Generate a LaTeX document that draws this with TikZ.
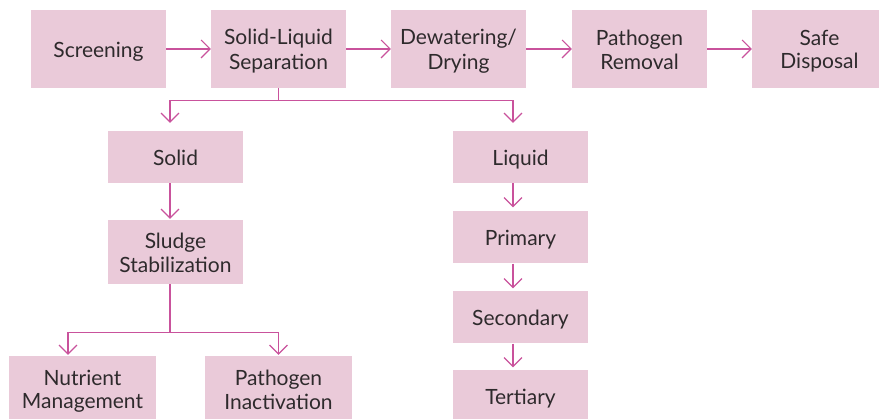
\documentclass[tikz,border=0pt]{standalone}
\usepackage{fontspec}
\setmainfont{Lato}
\usetikzlibrary{arrows.meta}
\definecolor{boxfill}{HTML}{EACAD9}
\definecolor{linecol}{HTML}{C9529C}
\definecolor{txt}{HTML}{2E2A2C}
\newcommand{\vs}{\rule[-3pt]{0pt}{23pt}}
\tikzset{
  box/.style={fill=boxfill, draw=none, text=txt, align=center, inner sep=0pt,
    minimum width=135pt, font=\fontsize{21}{23}\selectfont},
  conn/.style={draw=linecol, line width=1.1pt, -{Straight Barb[length=9pt,width=18pt,line width=1.1pt]}},
  plain/.style={draw=linecol, line width=1.1pt}
}
\begin{document}
\begin{tikzpicture}[x=1pt,y=-1pt]
\useasboundingbox (0,0) rectangle (879,419);
\clip (0,0) rectangle (879,419);
% top row
\node[box, minimum height=78pt] (scr) at (98.5,49) {\vs Screening};
\node[box, minimum height=78pt] (sls) at (278.5,49) {\vs Solid-Liquid\\\vs Separation};
\node[box, minimum height=78pt] (dew) at (458.5,49) {\vs Dewatering/\\\vs Drying};
\node[box, minimum height=78pt] (pr) at (639.5,49) {\vs Pathogen\\\vs Removal};
\node[box, minimum height=78pt] (sd) at (819.5,49) {\vs Safe\\\vs Disposal};
% solid branch
\node[box, minimum height=52pt] (solid) at (175.5,157) {\vs Solid};
\node[box, minimum height=64pt] (sludge) at (175.5,252) {\vs Sludge\\\vs Stabilization};
\node[box, minimum height=66pt, minimum width=147pt] (nut) at (82.5,389) {\vs Nutrient\\\vs Management};
\node[box, minimum height=66pt, minimum width=147pt] (pin) at (278.5,389) {\vs Pathogen\\\vs Inactivation};
% liquid branch
\node[box, minimum height=52pt] (liq) at (520.5,157) {\vs Liquid};
\node[box, minimum height=52pt] (pri) at (520.5,237.5) {\vs Primary};
\node[box, minimum height=52pt] (sec) at (520.5,317.5) {\vs Secondary};
\node[box, minimum height=52pt] (ter) at (520.5,396.5) {\vs Tertiary};
% top connectors
\draw[conn] (scr.east) -- (sls.west);
\draw[conn] (sls.east) -- (dew.west);
\draw[conn] (dew.east) -- (pr.west);
\draw[conn] (pr.east) -- (sd.west);
% split
\coordinate (split) at ([yshift=-12pt]sls.south);
\draw[plain] (sls.south) -- (split);
\draw[conn, shorten >=8pt] (split) -| ([xshift=-5.5pt]solid.north);
\draw[conn, shorten >=8pt] (split) -| ([xshift=-7.5pt]liq.north);
\draw[conn, shorten >=1pt] ([xshift=-5.5pt]solid.south) -- ([xshift=-5.5pt]sludge.north);
\draw[conn, shorten >=4pt] ([xshift=-7.5pt]liq.south) -- ([xshift=-7.5pt]pri.north);
\draw[conn, shorten >=3pt] ([xshift=-7.5pt]pri.south) -- ([xshift=-7.5pt]sec.north);
\draw[conn, shorten >=3pt] ([xshift=-7.5pt]sec.south) -- ([xshift=-7.5pt]ter.north);
% sludge split
\coordinate (split2) at ([xshift=-5.5pt,yshift=-48pt]sludge.south);
\draw[plain] ([xshift=-5.5pt]sludge.south) -- (split2);
\draw[conn, shorten >=1pt] (split2) -| ([xshift=-14.5pt]nut.north);
\draw[conn, shorten >=1pt] (split2) -| (pin.north);
\end{tikzpicture}
\end{document}
